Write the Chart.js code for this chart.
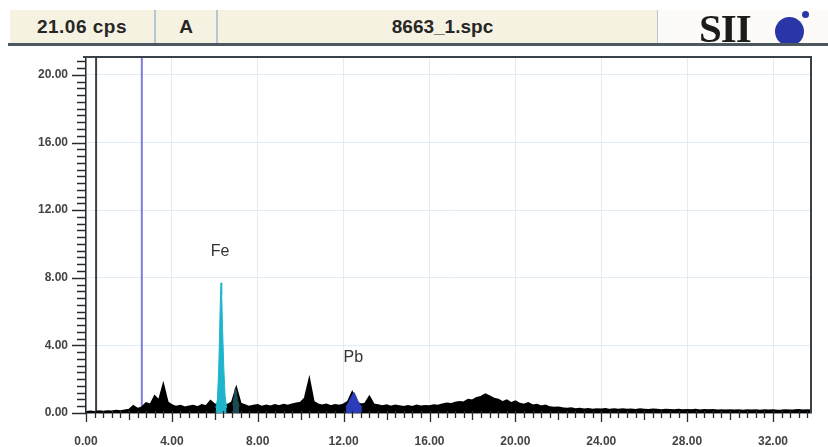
<!DOCTYPE html>
<html>
<head>
<meta charset="utf-8">
<title>8663_1.spc</title>
<script src="https://cdn.jsdelivr.net/npm/chart.js"></script>
<style>
  body { margin: 0; background: #fff; }
  #wrap { position: relative; width: 828px; height: 447px; overflow: hidden; font-family: "Liberation Sans", Arial, sans-serif; }
  #spectrum { position: absolute; left: 0; top: 0; }
  .head { position: absolute; top: 10px; height: 33px; line-height: 34px; text-align: center; font-weight: bold; font-size: 19px; color: #262626; box-sizing: border-box; }
  .sep { border-right: 2px solid #b6c6d4; }
  #rule { position: absolute; left: 8px; top: 43px; width: 820px; height: 3px; background: #4e5860; }
  #logo { position: absolute; left: 658px; top: 10px; width: 170px; height: 33px; background: #fcfbf7; }
  #logo span { position: absolute; left: 41px; top: -2px; font-family: "Liberation Serif", "DejaVu Serif", serif; font-weight: bold; font-size: 41px; line-height: 40px; color: #1c1c1c; letter-spacing: -1px; }
  .dot { position: absolute; border-radius: 50%; background: #2a36a8; }
</style>
</head>
<body>
<div id="wrap">
  <canvas id="spectrum" width="828" height="447"></canvas>
  <div class="head sep" style="left:10px;width:146px;background:#f6f2e2;letter-spacing:0.5px;">21.06 cps</div>
  <div class="head sep" style="left:156px;width:62px;background:#f6f2e2;">A</div>
  <div class="head sep" style="left:218px;width:441px;background:#f6f2e2;padding-left:10px;">8663_1.spc</div>
  <div id="logo">
    <span>SII</span>
    <div class="dot" style="left:117px;top:7px;width:29px;height:29px;"></div>
    <div class="dot" style="left:144px;top:1px;width:7px;height:7px;"></div>
  </div>
  <div id="rule"></div>
</div>
<script>
// 1. Spectrum data (counts per second, one reading every 0.2 keV from 0.0 keV)
const keVPerPoint = 0.2;
const counts = [
  0.05, 0.08, 0.06, 0.10, 0.07,   // 0 keV
  0.10, 0.08, 0.12, 0.10, 0.15,   // 1
  0.18, 0.40, 0.24, 0.32, 0.58,   // 2
  0.48, 0.98, 0.72, 1.65, 0.62,   // 3
  0.45, 0.36, 0.42, 0.32, 0.38,   // 4
  0.42, 0.34, 0.46, 0.40, 0.70,   // 5
  0.48, 0.52, 0.44, 0.48, 0.62,   // 6
  1.45, 0.55, 0.45, 0.36, 0.42,   // 7
  0.46, 0.36, 0.44, 0.38, 0.46,   // 8
  0.40, 0.48, 0.42, 0.50, 0.56,   // 9
  0.60, 0.88, 1.95, 0.66, 0.50,   // 10
  0.44, 0.50, 0.40, 0.47, 0.42,   // 11
  0.50, 0.65, 1.20, 0.62, 0.50,   // 12
  0.54, 0.95, 0.50, 0.45, 0.40,   // 13
  0.45, 0.37, 0.43, 0.40, 0.35,   // 14
  0.40, 0.35, 0.43, 0.38, 0.41,   // 15
  0.40, 0.45, 0.42, 0.50, 0.55,   // 16
  0.52, 0.60, 0.65, 0.62, 0.78,   // 17
  0.74, 0.88, 0.95, 1.10, 0.98,   // 18
  0.84, 0.78, 0.64, 0.74, 0.58,   // 19
  0.68, 0.54, 0.48, 0.58, 0.44,   // 20
  0.48, 0.38, 0.43, 0.33, 0.31,   // 21
  0.32, 0.27, 0.25, 0.27, 0.22,   // 22
  0.24, 0.20, 0.23, 0.19, 0.22,   // 23
  0.20, 0.23, 0.18, 0.21, 0.19,   // 24
  0.22, 0.18, 0.20, 0.17, 0.21,   // 25
  0.19, 0.17, 0.20, 0.18, 0.16,   // 26
  0.19, 0.17, 0.15, 0.18, 0.16,   // 27
  0.17, 0.15, 0.18, 0.14, 0.17,   // 28
  0.15, 0.17, 0.14, 0.16, 0.14,   // 29
  0.16, 0.14, 0.15, 0.13, 0.16,   // 30
  0.14, 0.15, 0.13, 0.15, 0.14,   // 31
  0.15, 0.13, 0.14, 0.16, 0.14,   // 32
  0.15, 0.17, 0.14, 0.16, 0.14,   // 33
];

// 2. Identified peaks (finer readings around each)
const feKeV = [6.05, 6.12, 6.18, 6.22, 6.26, 6.29, 6.32, 6.36, 6.42, 6.48, 6.55];
const feCps = [0.30, 0.80, 2.50, 4.60, 6.80, 7.70, 7.00, 5.00, 2.60, 1.00, 0.30];
const feBetaKeV = [6.84, 6.90, 6.95, 7.00, 7.06, 7.14];
const feBetaCps = [0.45, 0.95, 1.45, 1.30, 0.75, 0.40];
const pbKeV = [12.10, 12.20, 12.30, 12.40, 12.48, 12.55, 12.65, 12.75, 12.85];
const pbCps = [0.35, 0.55, 0.80, 1.05, 1.22, 1.05, 0.75, 0.50, 0.35];

// 3. Cursor lines and axis settings
const roiStartKeV = 0.47;
const cursorKeV = 2.6;
const xMaxKeV = 33.77;
const yMaxCps = 21.06;
const xTicks = [0, 4, 8, 12, 16, 20, 24, 28, 32];
const yTicks = [0, 4, 8, 12, 16, 20];
const peakLabels = [
  { text: 'Fe', keV: 6.25, cps: 9.55 },
  { text: 'Pb', keV: 12.45, cps: 3.25 },
];

const pairs = (xs, ys) => xs.map((x, i) => ({ x, y: ys[i] }));
const spectrum = counts.map((c, i) => ({ x: i * keVPerPoint, y: c }));

// 4. Ruler ticks, frame and peak labels
const rulerPlugin = {
  id: 'ruler',
  afterDraw(chart) {
    const { ctx, chartArea: a, scales: { x, y } } = chart;
    ctx.save();
    ctx.strokeStyle = '#262b30';
    ctx.lineWidth = 1.3;
    ctx.beginPath();
    for (let i = 0; i * 0.4 <= xMaxKeV; i++) {
      const px = Math.round(x.getPixelForValue(i * 0.4)) + 0.5;
      const len = i % 10 === 0 ? 9 : (i % 5 === 0 ? 7 : 5);
      ctx.moveTo(px, a.bottom - 2);
      ctx.lineTo(px, a.bottom + len);
    }
    for (let i = 0; i * 0.4 <= yMaxCps; i++) {
      const py = Math.round(y.getPixelForValue(i * 0.4)) + 0.5;
      const len = i % 10 === 0 ? 14 : 9;
      ctx.moveTo(a.left, py);
      ctx.lineTo(a.left - len, py);
    }
    ctx.stroke();
    // frame
    ctx.strokeStyle = '#3a4249';
    ctx.lineWidth = 2;
    ctx.beginPath();
    ctx.moveTo(a.left - 3, a.top);
    ctx.lineTo(a.right, a.top);
    ctx.lineTo(a.right, a.bottom);
    ctx.stroke();
    // labels
    ctx.fillStyle = '#333';
    ctx.font = '16px "Liberation Sans", Arial, sans-serif';
    ctx.textAlign = 'center';
    ctx.textBaseline = 'middle';
    peakLabels.forEach(l => ctx.fillText(l.text, x.getPixelForValue(l.keV), y.getPixelForValue(l.cps)));
    ctx.restore();
  }
};

// 5. Chart
const ctx = document.getElementById('spectrum').getContext('2d');
new Chart(ctx, {
  type: 'line',
  data: {
    datasets: [
      { data: pairs(feKeV, feCps), borderColor: '#1eb4cc', backgroundColor: '#1eb4cc', fill: 'origin', borderWidth: 1, order: 1 },
      { data: pairs(feBetaKeV, feBetaCps), borderColor: '#1c4c52', backgroundColor: '#1c4c52', fill: 'origin', borderWidth: 1, order: 1 },
      { data: pairs(pbKeV, pbCps), borderColor: '#2a3cb8', backgroundColor: '#2a3cb8', fill: 'origin', borderWidth: 1, order: 1 },
      { data: spectrum, borderColor: '#000', backgroundColor: '#000', fill: 'origin', borderWidth: 2.2, order: 2 },
      { data: [{ x: cursorKeV, y: 0 }, { x: cursorKeV, y: yMaxCps }], borderColor: '#7f7cdc', borderWidth: 2, order: 3 },
      { data: [{ x: roiStartKeV, y: 0 }, { x: roiStartKeV, y: yMaxCps }], borderColor: '#3a4249', borderWidth: 2, order: 3 },
    ]
  },
  options: {
    responsive: false,
    animation: false,
    layout: { padding: { top: 57, right: 17, left: 0, bottom: 0 } },
    elements: { point: { radius: 0 }, line: { tension: 0 } },
    plugins: { legend: { display: false }, tooltip: { enabled: false } },
    scales: {
      x: {
        type: 'linear',
        min: 0,
        max: xMaxKeV,
        afterFit: s => { s.height = 34; },
        afterBuildTicks: s => { s.ticks = xTicks.map(v => ({ value: v })); },
        grid: { color: '#e2ecf6', drawTicks: false },
        border: { color: '#262b30', width: 1.5 },
        ticks: { padding: 21, color: '#444', font: { size: 12, weight: 'bold' }, maxRotation: 0, autoSkip: false, callback: v => v.toFixed(2) }
      },
      y: {
        min: 0,
        max: yMaxCps,
        afterFit: s => { s.width = 86; },
        afterBuildTicks: s => { s.ticks = yTicks.map(v => ({ value: v })); },
        grid: { color: ctx => ctx.tick && ctx.tick.value === 0 ? 'transparent' : '#e2ecf6', drawTicks: false },
        border: { color: '#262b30', width: 1.5 },
        ticks: { padding: 18, color: '#444', font: { size: 12, weight: 'bold' }, callback: v => v.toFixed(2) }
      }
    }
  },
  plugins: [rulerPlugin]
});
</script>
</body>
</html>
